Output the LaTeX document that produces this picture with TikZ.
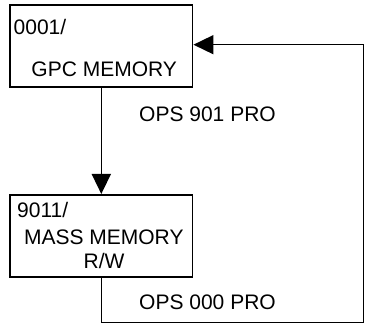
\documentclass[tikz,border=0pt]{standalone}
\usepackage{fontspec}
\setmainfont{Liberation Sans}
\usetikzlibrary{arrows.meta}
\tikzset{
  box/.style={draw, line width=1.6pt, minimum width=182.7pt, minimum height=82pt, inner sep=0pt},
  lbl/.style={inner sep=0pt, font=\fontsize{21}{25}\selectfont},
  conn/.style={line width=1.6pt},
  arr/.style={conn, -{Triangle[length=20pt,width=19pt]}}
}
\begin{document}
\begin{tikzpicture}[x=1pt,y=-1pt]
\useasboundingbox (0,0) rectangle (365,326);
\node[box] (b1) at (101.3,46.2) {};
\node[box] (b2) at (101.3,235.8) {};
\node[lbl, anchor=base west] (t1) at (13.5,34.3) {0001/};
\node[lbl, anchor=base] (t2) at (104.2,76.7) {GPC MEMORY};
\node[lbl, anchor=base] (t3) at (207.5,121.7) {OPS 901 PRO};
\node[lbl, anchor=base west] (t4) at (17,218) {9011/};
\node[lbl, anchor=base] (t5) at (103.8,245) {MASS MEMORY};
\node[lbl, anchor=base] (t6) at (104,269) {R/W};
\node[lbl, anchor=base] (t7) at (207.5,310) {OPS 000 PRO};
\coordinate (tr) at (363.5,44.7);
\coordinate (br) at (363.5,322.7);
\draw[arr] (b1.south) -- (b2.north);
\draw[arr] (b2.south) |- (br) -- (tr) -- (tr -| b1.east);
\end{tikzpicture}
\end{document}
